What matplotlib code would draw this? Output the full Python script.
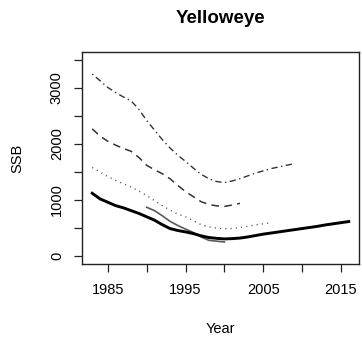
import matplotlib
matplotlib.use("Agg")
import matplotlib.pyplot as plt

plt.rcParams["font.family"] = ["Liberation Sans", "DejaVu Sans"]

# Spawning stock biomass estimates by assessment
years_current = list(range(1983, 2017))
ssb_current = [1120, 1020, 960, 900, 860, 810, 760, 700, 640, 560,
               490, 455, 430, 400, 360, 330, 315, 305, 310, 320,
               340, 365, 390, 410, 430, 450, 470, 490, 510, 530,
               555, 575, 595, 615]

years_prev = list(range(1990, 2001))
ssb_prev = [870, 810, 720, 620, 545, 480, 420, 340, 280, 265, 250]

years_dot = list(range(1983, 2007))
ssb_dot = [1580, 1500, 1420, 1350, 1290, 1230, 1160, 1080, 990, 900,
           820, 750, 700, 630, 560, 520, 500, 485, 490, 510,
           530, 555, 575, 595]

years_dash = list(range(1983, 2003))
ssb_dash = [2270, 2140, 2050, 1980, 1920, 1870, 1760, 1620, 1540, 1470,
            1380, 1260, 1150, 1060, 970, 920, 895, 885, 910, 940]

years_dotdash = list(range(1983, 2010))
ssb_dotdash = [3250, 3130, 3010, 2920, 2840, 2770, 2620, 2420, 2250, 2080,
               1930, 1800, 1690, 1570, 1460, 1380, 1330, 1310, 1340, 1380,
               1430, 1480, 1520, 1560, 1590, 1620, 1650]

xticks = [1985, 1990, 1995, 2000, 2005, 2010, 2015]
xticklabels = ["1985", "", "1995", "", "2005", "", "2015"]
yticks = [0, 500, 1000, 1500, 2000, 2500, 3000, 3500]
yticklabels = ["0", "", "1000", "", "2000", "", "3000", ""]

fig = plt.figure(figsize=(3.62, 3.45), dpi=100)
ax = fig.add_axes([0.2265, 0.2348, 0.7652, 0.6145])

ax.plot(years_dotdash, ssb_dotdash, color="#333333", lw=1.0,
        dashes=(1, 2.5, 4.5, 2.5))
ax.plot(years_dash, ssb_dash, color="#333333", lw=1.1, dashes=(5, 3.5))
ax.plot(years_dot, ssb_dot, color="#555555", lw=1.0, dashes=(0.8, 3))
ax.plot(years_prev, ssb_prev, color="#5a5a5a", lw=1.2)
ax.plot(years_current, ssb_current, color="black", lw=2.1)

ax.set_xlim(1981.68, 2017.32)
ax.set_ylim(-143, 3643)
ax.set_xticks(xticks)
ax.set_xticklabels(xticklabels)
ax.set_yticks(yticks)
ax.set_yticklabels(yticklabels, rotation=90, va="center")
ax.tick_params(axis="both", direction="out", length=6, width=0.9,
               labelsize=10.5, color="#222222")
ax.tick_params(axis="x", pad=8)
ax.tick_params(axis="y", pad=7)
for sp in ax.spines.values():
    sp.set_linewidth(1.0)
    sp.set_color("#222222")

ax.set_title("Yelloweye", fontsize=13.5, fontweight="bold", pad=21)
ax.set_xlabel("Year", fontsize=10.5)
ax.set_ylabel("SSB", fontsize=10.5)
ax.xaxis.set_label_coords(0.5, -0.274)
ax.yaxis.set_label_coords(-0.209, 0.5)

fig.savefig("out.png", dpi=100, facecolor="white")
